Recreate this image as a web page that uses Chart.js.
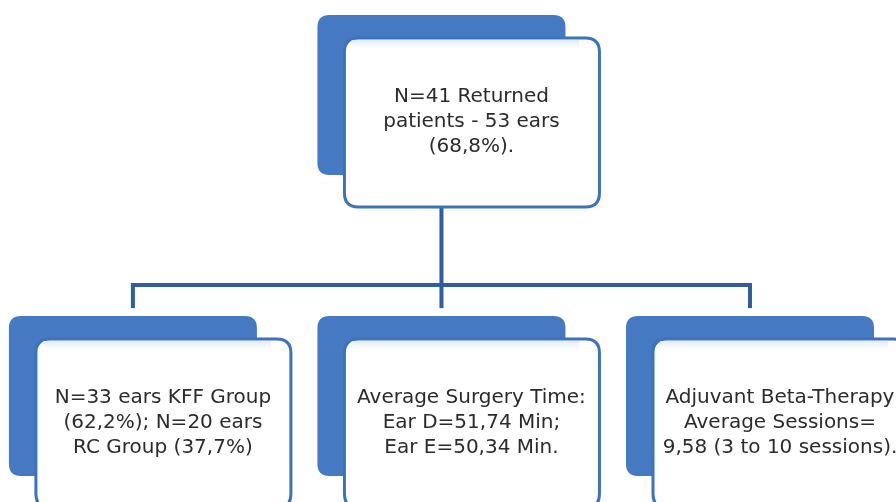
<!DOCTYPE html>
<html lang="en">

<head>
    <meta charset="UTF-8">
    <title>Flowchart</title>
    <script src="https://cdn.jsdelivr.net/npm/chart.js"></script>
    <style>
        html, body { margin: 0; padding: 0; background: #ffffff; overflow: hidden; }
        .chart-wrap { position: relative; width: 896px; height: 502px; }
    </style>
</head>

<body>
    <div class="chart-wrap">
        <canvas id="flowChart"></canvas>
    </div>

    <script>
        // Dados do fluxograma
        const nodeLines = [
            ['N=41 Returned', 'patients - 53 ears', '(68,8%).'],
            ['N=33 ears KFF Group', '(62,2%); N=20 ears', 'RC Group (37,7%)'],
            ['Average Surgery Time:', 'Ear D=51,74 Min;', 'Ear E=50,34 Min.'],
            ['Adjuvant Beta-Therapy', 'Average Sessions=', '9,58 (3 to 10 sessions).']
        ];
        const nodeColumn = [1, 0, 1, 2];
        const nodeRow = [0, 1, 1, 1];
        const nodeParent = [null, 0, 0, 0];

        const boxBlue = '#4579c2';
        const lineBlue = '#2f5f9f';
        const textColor = '#2b2b2b';

        function roundRect(ctx, x, y, w, h, r) {
            ctx.beginPath();
            ctx.moveTo(x + r, y);
            ctx.lineTo(x + w - r, y);
            ctx.quadraticCurveTo(x + w, y, x + w, y + r);
            ctx.lineTo(x + w, y + h - r);
            ctx.quadraticCurveTo(x + w, y + h, x + w - r, y + h);
            ctx.lineTo(x + r, y + h);
            ctx.quadraticCurveTo(x, y + h, x, y + h - r);
            ctx.lineTo(x, y + r);
            ctx.quadraticCurveTo(x, y, x + r, y);
            ctx.closePath();
        }

        // Plugin que desenha caixas e conectores
        const flowPlugin = {
            id: 'flowPlugin',
            afterDatasetsDraw(chart) {
                const ctx = chart.ctx;
                const xs = chart.scales.x;
                const ys = chart.scales.y;
                const centers = nodeColumn.map((c, i) => ({
                    x: xs.getPixelForValue(c),
                    y: ys.getPixelForValue(nodeRow[i])
                }));

                ctx.save();
                // conectores
                ctx.strokeStyle = lineBlue;
                ctx.lineWidth = 4;
                ctx.lineCap = 'butt';
                const parents = [...new Set(nodeParent.filter(p => p !== null))];
                parents.forEach(p => {
                    const kids = nodeParent.map((q, i) => q === p ? i : -1).filter(i => i >= 0);
                    const pc = centers[p];
                    const busY = centers[kids[0]].y - 138;
                    const px = pc.x - 30;
                    ctx.beginPath();
                    ctx.moveTo(px, pc.y + 84);
                    ctx.lineTo(px, busY);
                    ctx.stroke();
                    const kx = kids.map(k => centers[k].x - 30);
                    ctx.beginPath();
                    ctx.moveTo(Math.min(...kx) - 2, busY);
                    ctx.lineTo(Math.max(...kx) + 2, busY);
                    ctx.stroke();
                    kids.forEach(k => {
                        ctx.beginPath();
                        ctx.moveTo(centers[k].x - 30, busY);
                        ctx.lineTo(centers[k].x - 30, centers[k].y - 115);
                        ctx.stroke();
                    });
                });

                // caixas
                centers.forEach((c, i) => {
                    ctx.fillStyle = boxBlue;
                    roundRect(ctx, c.x - 154, c.y - 107, 248, 160, 12);
                    ctx.fill();

                    roundRect(ctx, c.x - 127, c.y - 84, 255, 169, 14);
                    ctx.fillStyle = '#ffffff';
                    ctx.fill();
                    ctx.lineWidth = 3;
                    ctx.strokeStyle = '#3d72bd';
                    ctx.stroke();

                    // faixa clara no topo da caixa
                    const g = ctx.createLinearGradient(0, c.y - 82, 0, c.y - 70);
                    g.addColorStop(0, 'rgba(220,232,246,0.9)');
                    g.addColorStop(1, 'rgba(255,255,255,0)');
                    ctx.fillStyle = g;
                    ctx.fillRect(c.x - 120, c.y - 82, 228, 12);

                    ctx.fillStyle = textColor;
                    ctx.font = '20px Verdana, "DejaVu Sans", sans-serif';
                    ctx.textAlign = 'center';
                    ctx.textBaseline = 'middle';
                    const lines = nodeLines[i];
                    lines.forEach((t, j) => {
                        ctx.fillText(t, c.x, c.y + (j - (lines.length - 1) / 2) * 25);
                    });
                });
                ctx.restore();
            }
        };

        new Chart(document.getElementById('flowChart'), {
            type: 'scatter',
            data: {
                datasets: [{
                    data: nodeColumn.map((c, i) => ({ x: c, y: nodeRow[i] })),
                    pointRadius: 0
                }]
            },
            options: {
                responsive: true,
                maintainAspectRatio: false,
                animation: false,
                layout: { padding: 0 },
                plugins: {
                    legend: { display: false },
                    tooltip: { enabled: false }
                },
                scales: {
                    x: { type: 'linear', min: -0.528, max: 2.376, display: false },
                    y: { type: 'linear', min: -0.405, max: 1.262, reverse: true, display: false }
                }
            },
            plugins: [flowPlugin]
        });
    </script>
</body>

</html>
